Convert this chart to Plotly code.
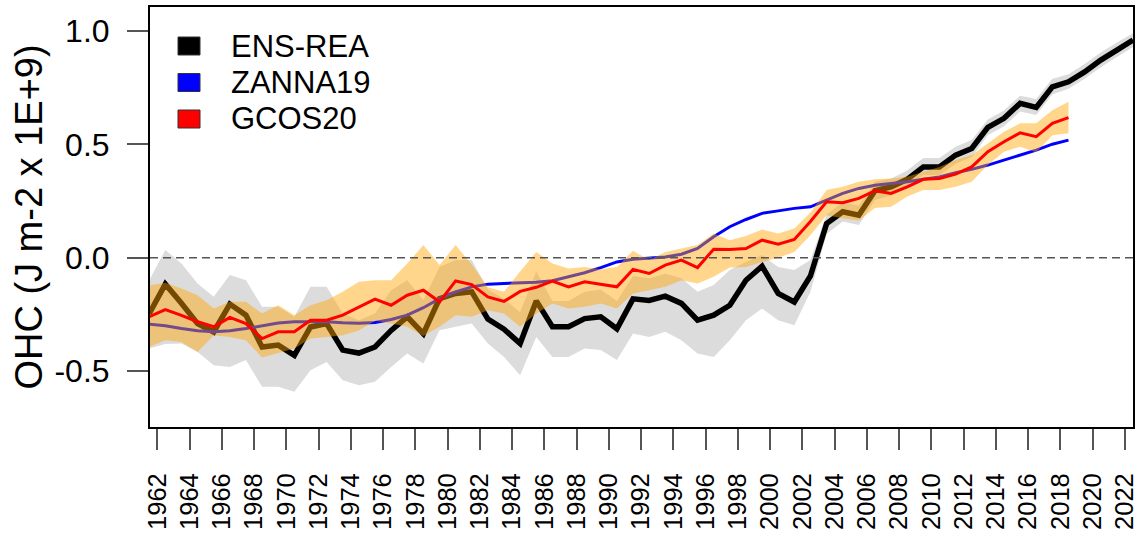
"""Ocean heat content anomaly: ENS-REA reanalysis ensemble vs ZANNA19 and GCOS20."""
import plotly.graph_objects as go

# annual values, plotted at mid-year
YEARS = list(range(1961, 2023))
YEARS_OBS = list(range(1961, 2019))

ENS_REA = [
    -0.246, -0.116, -0.200, -0.290, -0.327, -0.204, -0.253, -0.393, -0.385, -0.430,
    -0.305, -0.290, -0.407, -0.420, -0.393, -0.320, -0.260, -0.334, -0.180, -0.157,
    -0.150, -0.270, -0.315, -0.378, -0.190, -0.304, -0.304, -0.268, -0.260, -0.313,
    -0.181, -0.188, -0.169, -0.201, -0.275, -0.253, -0.209, -0.099, -0.037, -0.157,
    -0.195, -0.080, 0.151, 0.203, 0.188, 0.296, 0.313, 0.346, 0.401, 0.401,
    0.453, 0.482, 0.575, 0.615, 0.681, 0.663, 0.754, 0.776, 0.820, 0.872,
    0.916, 0.960,
]
ENS_LO = [
    -0.400, -0.380, -0.378, -0.415, -0.474, -0.481, -0.451, -0.569, -0.569, -0.591,
    -0.496, -0.459, -0.540, -0.562, -0.547, -0.481, -0.422, -0.466, -0.319, -0.304,
    -0.290, -0.378, -0.437, -0.518, -0.349, -0.437, -0.437, -0.400, -0.407, -0.451,
    -0.334, -0.349, -0.326, -0.363, -0.422, -0.437, -0.363, -0.275, -0.224, -0.275,
    -0.297, -0.150, 0.105, 0.160, 0.145, 0.255, 0.275, 0.310, 0.365, 0.365,
    0.415, 0.445, 0.540, 0.580, 0.645, 0.630, 0.720, 0.745, 0.790, 0.840,
    0.885, 0.930,
]
ENS_HI = [
    -0.099, 0.034, -0.025, -0.113, -0.172, -0.076, -0.099, -0.216, -0.216, -0.260,
    -0.128, -0.128, -0.246, -0.275, -0.246, -0.143, -0.099, -0.187, -0.040, -0.010,
    -0.010, -0.140, -0.180, -0.240, -0.060, -0.190, -0.190, -0.150, -0.140, -0.190,
    -0.080, -0.090, -0.070, -0.090, -0.150, -0.120, -0.054, -0.018, 0.012, -0.040,
    -0.054, -0.010, 0.190, 0.245, 0.230, 0.335, 0.350, 0.385, 0.440, 0.440,
    0.490, 0.520, 0.610, 0.650, 0.715, 0.700, 0.790, 0.810, 0.855, 0.905,
    0.950, 0.990,
]
ZANNA19 = [
    -0.293, -0.300, -0.312, -0.322, -0.326, -0.322, -0.312, -0.298, -0.287, -0.282,
    -0.282, -0.282, -0.286, -0.288, -0.285, -0.272, -0.253, -0.220, -0.180, -0.150,
    -0.128, -0.116, -0.113, -0.112, -0.108, -0.101, -0.084, -0.066, -0.043, -0.018,
    -0.006, 0.000, 0.004, 0.016, 0.041, 0.093, 0.137, 0.169, 0.196, 0.207,
    0.218, 0.225, 0.254, 0.284, 0.306, 0.320, 0.328, 0.335, 0.346, 0.357,
    0.375, 0.390, 0.409, 0.431, 0.453, 0.475, 0.501, 0.519,
]
GCOS20 = [
    -0.260, -0.228, -0.254, -0.282, -0.304, -0.263, -0.290, -0.356, -0.326, -0.326,
    -0.275, -0.275, -0.253, -0.216, -0.182, -0.209, -0.165, -0.143, -0.194, -0.102,
    -0.118, -0.172, -0.192, -0.148, -0.130, -0.103, -0.128, -0.106, -0.116, -0.128,
    -0.051, -0.069, -0.032, -0.010, -0.043, 0.038, 0.037, 0.041, 0.078, 0.060,
    0.081, 0.160, 0.247, 0.243, 0.262, 0.296, 0.284, 0.313, 0.346, 0.350,
    0.369, 0.401, 0.468, 0.512, 0.551, 0.534, 0.593, 0.618,
]
GCOS_LO = [
    -0.393, -0.363, -0.371, -0.415, -0.341, -0.349, -0.363, -0.440, -0.420, -0.400,
    -0.356, -0.349, -0.341, -0.320, -0.278, -0.290, -0.304, -0.345, -0.304, -0.253,
    -0.260, -0.231, -0.246, -0.304, -0.245, -0.201, -0.224, -0.216, -0.201, -0.224,
    -0.157, -0.143, -0.128, -0.099, -0.113, -0.084, -0.043, -0.040, -0.018, 0.000,
    0.026, 0.100, 0.188, 0.175, 0.165, 0.220, 0.225, 0.270, 0.299, 0.299,
    0.313, 0.335, 0.409, 0.468, 0.490, 0.465, 0.541, 0.549,
]
GCOS_HI = [
    -0.121, -0.110, -0.135, -0.165, -0.224, -0.194, -0.194, -0.246, -0.209, -0.253,
    -0.209, -0.187, -0.150, -0.106, -0.099, -0.099, -0.025, 0.056, -0.032, 0.056,
    -0.030, -0.130, -0.150, -0.060, 0.026, -0.025, -0.047, -0.040, -0.050, -0.040,
    0.031, -0.010, 0.026, 0.041, 0.056, 0.107, 0.078, 0.096, 0.125, 0.107,
    0.129, 0.200, 0.299, 0.313, 0.335, 0.346, 0.350, 0.357, 0.379, 0.401,
    0.431, 0.453, 0.504, 0.556, 0.593, 0.593, 0.651, 0.688,
]

TICK_YEARS = list(range(1962, 2023, 2))
Y_TICKS = [-0.5, 0.0, 0.5, 1.0]
LEGEND = [("ENS-REA", "#000000"), ("ZANNA19", "#0000ff"), ("GCOS20", "#ff0000")]

FONT = "Liberation Sans, Arial, Helvetica, sans-serif"
W, H = 1137, 536
ML, MR, MT, MB = 150, 4, 7, 109

x_all = [y + 0.5 for y in YEARS]
x_obs = [y + 0.5 for y in YEARS_OBS]


def px_x(px):
    return (px - ML) / (W - ML - MR)


def px_y(py):
    return 1 - (py - MT) / (H - MT - MB)


def band(xs, lo, hi, color):
    return go.Scatter(
        x=xs + xs[::-1], y=hi + lo[::-1],
        fill="toself", fillcolor=color, mode="none",
        hoverinfo="skip", showlegend=False,
    )


fig = go.Figure()
# draw order matters: orange band is translucent and sits over black and blue
fig.add_trace(band(x_all, ENS_LO, ENS_HI, "#dcdcdc"))
fig.add_trace(go.Scatter(x=x_all, y=ENS_REA, mode="lines", name="ENS-REA",
                         line=dict(color="#000000", width=5.5), showlegend=False))
fig.add_trace(go.Scatter(x=x_obs, y=ZANNA19, mode="lines", name="ZANNA19",
                         line=dict(color="#0000ff", width=3), showlegend=False))
fig.add_trace(band(x_obs, GCOS_LO, GCOS_HI, "rgba(255,165,0,0.45)"))
fig.add_trace(go.Scatter(x=x_obs, y=GCOS20, mode="lines", name="GCOS20",
                         line=dict(color="#ff0000", width=3), showlegend=False))

fig.add_shape(type="line", xref="paper", x0=0, x1=1, yref="y", y0=0, y1=0,
              line=dict(color="#555555", width=1.5, dash="8px,5px"), layer="above")

# legend drawn by hand, R style: filled boxes and labels
for i, (name, color) in enumerate(LEGEND):
    cy = 46 + i * 36.5
    fig.add_shape(type="rect", xref="paper", yref="paper",
                  x0=px_x(178), x1=px_x(200), y0=px_y(cy + 9), y1=px_y(cy - 9),
                  fillcolor=color, line=dict(color="#333333", width=1), layer="above")
    fig.add_annotation(x=px_x(229), y=px_y(cy), xref="paper", yref="paper",
                       text=name, showarrow=False, xanchor="left", yanchor="middle",
                       font=dict(size=31, family=FONT, color="#000000"))

fig.update_layout(
    width=W, height=H,
    paper_bgcolor="white", plot_bgcolor="white",
    margin=dict(l=ML, r=MR, t=MT, b=MB),
    font=dict(family=FONT, color="#000000"),
    showlegend=False,
    xaxis=dict(
        range=[1961.55, 2022.5], tickmode="array", tickvals=TICK_YEARS,
        ticktext=[str(t) for t in TICK_YEARS], tickangle=-90,
        tickfont=dict(size=25.5), ticks="outside", ticklen=21, tickwidth=1.5,
        tickcolor="#555555", ticklabelstandoff=13, automargin=False,
        ticklabeloverflow="allow",
        showgrid=False, zeroline=False,
        showline=True, linecolor="#000000", linewidth=2, mirror=True,
    ),
    yaxis=dict(
        range=[-0.746, 1.106], tickmode="array", tickvals=Y_TICKS,
        ticktext=["-0.5", "0.0", "0.5", "1.0"],
        tickfont=dict(size=32), ticks="outside", ticklen=21, tickwidth=1.5,
        tickcolor="#555555", ticklabelstandoff=11, automargin=False,
        title=dict(text="OHC (J m-2 x 1E+9)", font=dict(size=38), standoff=0),
        showgrid=False, zeroline=False,
        showline=True, linecolor="#000000", linewidth=2, mirror=True,
    ),
)

# the page body has a default 8px margin; drop it so the figure sits at the corner
fig.write_html("out.html", config={"displayModeBar": False},
               post_script="document.body.style.margin = '0';")
